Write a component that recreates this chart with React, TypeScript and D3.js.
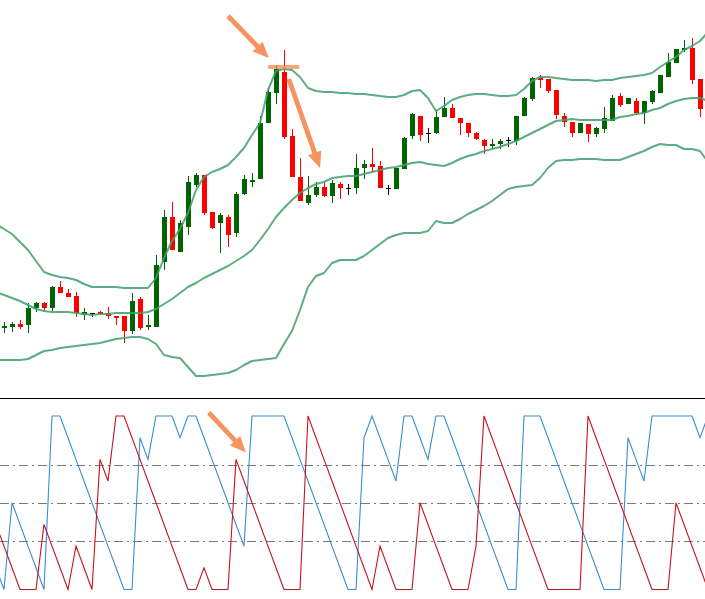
import { useEffect, useRef } from 'react';
import * as d3 from 'd3';

// OHLC, one entry per bar (bar 0 .. 87)
const opens = [
  1.2572, 1.2573, 1.2576, 1.2575, 1.2592, 1.2597, 1.2592, 1.2613, 1.2607, 1.2604,
  1.2585, 1.2587, 1.2588, 1.2587, 1.2584, 1.2584, 1.2569, 1.2601, 1.2573, 1.2573,
  1.2638, 1.2683, 1.2648, 1.2673, 1.2715, 1.2725, 1.2688, 1.2677, 1.2683, 1.2667,
  1.2706, 1.2718, 1.2721, 1.2777, 1.2807, 1.2828, 1.2764, 1.2723, 1.2697, 1.2705,
  1.2713, 1.2704, 1.2716, 1.2712, 1.2712, 1.2732, 1.2736, 1.2734, 1.2712, 1.2711,
  1.2731, 1.2764, 1.2784, 1.2767, 1.2767, 1.2783, 1.2792, 1.2782, 1.2777, 1.2767,
  1.2760, 1.2754, 1.2756, 1.2760, 1.2759, 1.2784, 1.2801, 1.2822, 1.2821, 1.2810,
  1.2784, 1.2778, 1.2767, 1.2776, 1.2766, 1.2771, 1.2779, 1.2804, 1.2796, 1.2799,
  1.2787, 1.2798, 1.2807, 1.2823, 1.2837, 1.2850, 1.2852, 1.2821,
];
const highs = [
  1.2578, 1.2578, 1.2580, 1.2597, 1.2598, 1.2598, 1.2614, 1.2619, 1.2611, 1.2608,
  1.2592, 1.2587, 1.2589, 1.2593, 1.2584, 1.2584, 1.2607, 1.2603, 1.2585, 1.2645,
  1.2690, 1.2698, 1.2680, 1.2724, 1.2727, 1.2725, 1.2688, 1.2687, 1.2685, 1.2708,
  1.2725, 1.2727, 1.2784, 1.2812, 1.2835, 1.2850, 1.2771, 1.2742, 1.2724, 1.2718,
  1.2718, 1.2720, 1.2718, 1.2716, 1.2746, 1.2740, 1.2752, 1.2739, 1.2715, 1.2732,
  1.2763, 1.2787, 1.2784, 1.2772, 1.2790, 1.2803, 1.2796, 1.2782, 1.2777, 1.2768,
  1.2761, 1.2761, 1.2761, 1.2763, 1.2784, 1.2803, 1.2823, 1.2825, 1.2821, 1.2810,
  1.2787, 1.2778, 1.2777, 1.2776, 1.2773, 1.2793, 1.2805, 1.2807, 1.2802, 1.2802,
  1.2799, 1.2810, 1.2825, 1.2847, 1.2851, 1.2860, 1.2862, 1.2821,
];
const lows = [
  1.2567, 1.2568, 1.2571, 1.2567, 1.2588, 1.2589, 1.2589, 1.2607, 1.2603, 1.2583,
  1.2580, 1.2583, 1.2585, 1.2581, 1.2575, 1.2557, 1.2566, 1.2570, 1.2570, 1.2573,
  1.2630, 1.2650, 1.2648, 1.2665, 1.2713, 1.2685, 1.2671, 1.2647, 1.2653, 1.2663,
  1.2705, 1.2713, 1.2721, 1.2777, 1.2796, 1.2761, 1.2723, 1.2699, 1.2695, 1.2703,
  1.2703, 1.2697, 1.2701, 1.2705, 1.2706, 1.2721, 1.2728, 1.2712, 1.2705, 1.2711,
  1.2731, 1.2761, 1.2759, 1.2757, 1.2766, 1.2783, 1.2782, 1.2765, 1.2763, 1.2760,
  1.2746, 1.2751, 1.2751, 1.2753, 1.2755, 1.2784, 1.2799, 1.2812, 1.2807, 1.2781,
  1.2773, 1.2763, 1.2767, 1.2758, 1.2763, 1.2767, 1.2779, 1.2793, 1.2796, 1.2785,
  1.2776, 1.2796, 1.2807, 1.2823, 1.2837, 1.2848, 1.2816, 1.2783,
];
const closes = [
  1.2574, 1.2576, 1.2573, 1.2592, 1.2597, 1.2592, 1.2613, 1.2607, 1.2603, 1.2587,
  1.2588, 1.2587, 1.2586, 1.2584, 1.2582, 1.2569, 1.2599, 1.2572, 1.2575, 1.2635,
  1.2683, 1.2650, 1.2677, 1.2718, 1.2725, 1.2687, 1.2672, 1.2685, 1.2665, 1.2706,
  1.2721, 1.2720, 1.2777, 1.2808, 1.2831, 1.2763, 1.2723, 1.2699, 1.2705, 1.2713,
  1.2704, 1.2717, 1.2712, 1.2712, 1.2732, 1.2736, 1.2733, 1.2712, 1.2712, 1.2732,
  1.2762, 1.2786, 1.2765, 1.2767, 1.2783, 1.2792, 1.2782, 1.2777, 1.2767, 1.2761,
  1.2754, 1.2756, 1.2759, 1.2760, 1.2784, 1.2802, 1.2822, 1.2820, 1.2809, 1.2785,
  1.2778, 1.2767, 1.2777, 1.2766, 1.2772, 1.2782, 1.2802, 1.2795, 1.2802, 1.2787,
  1.2799, 1.2809, 1.2825, 1.2838, 1.2851, 1.2852, 1.2820, 1.2791,
];

// Bollinger bands, bar -1 .. 88
const bandStart = -1;
const upperBand = [
  1.2676,
  1.2671, 1.2666, 1.2658, 1.2650, 1.2639, 1.2628, 1.2625, 1.2623, 1.2622, 1.2620,
  1.2616, 1.2613, 1.2613, 1.2613, 1.2613, 1.2612, 1.2612, 1.2612, 1.2612, 1.2622,
  1.2642, 1.2659, 1.2671, 1.2687, 1.2710, 1.2723, 1.2728, 1.2731, 1.2735, 1.2743,
  1.2752, 1.2765, 1.2777, 1.2810, 1.2829, 1.2831, 1.2830, 1.2823, 1.2812, 1.2809,
  1.2808, 1.2808, 1.2807, 1.2807, 1.2806, 1.2806, 1.2805, 1.2804, 1.2803, 1.2803,
  1.2805, 1.2809, 1.2810, 1.2802, 1.2789, 1.2794, 1.2800, 1.2803, 1.2805, 1.2806,
  1.2806, 1.2805, 1.2804, 1.2804, 1.2805, 1.2811, 1.2819, 1.2823, 1.2823, 1.2822,
  1.2821, 1.2820, 1.2820, 1.2820, 1.2819, 1.2820, 1.2820, 1.2822, 1.2823, 1.2824,
  1.2825, 1.2827, 1.2833, 1.2838, 1.2843, 1.2850, 1.2854, 1.2859,
  1.2868,
];
const middleBand = [
  1.2608,
  1.2605, 1.2602, 1.2599, 1.2595, 1.2591, 1.2589, 1.2588, 1.2588, 1.2588, 1.2587,
  1.2586, 1.2585, 1.2586, 1.2586, 1.2587, 1.2587, 1.2587, 1.2587, 1.2588, 1.2591,
  1.2596, 1.2601, 1.2607, 1.2613, 1.2617, 1.2622, 1.2626, 1.2630, 1.2634, 1.2639,
  1.2644, 1.2650, 1.2660, 1.2671, 1.2683, 1.2692, 1.2700, 1.2707, 1.2712, 1.2716,
  1.2718, 1.2722, 1.2723, 1.2724, 1.2724, 1.2726, 1.2728, 1.2730, 1.2732, 1.2733,
  1.2735, 1.2737, 1.2738, 1.2736, 1.2735, 1.2734, 1.2737, 1.2741, 1.2744, 1.2746,
  1.2749, 1.2751, 1.2753, 1.2756, 1.2759, 1.2763, 1.2767, 1.2771, 1.2775, 1.2779,
  1.2780, 1.2781, 1.2780, 1.2780, 1.2780, 1.2780, 1.2780, 1.2783, 1.2784, 1.2786,
  1.2787, 1.2790, 1.2792, 1.2796, 1.2799, 1.2801, 1.2802, 1.2802,
  1.2799,
];
const lowerBand = [
  1.2540,
  1.2540, 1.2540, 1.2540, 1.2541, 1.2545, 1.2549, 1.2550, 1.2552, 1.2553, 1.2554,
  1.2555, 1.2556, 1.2557, 1.2559, 1.2561, 1.2562, 1.2563, 1.2563, 1.2561, 1.2556,
  1.2545, 1.2543, 1.2542, 1.2533, 1.2524, 1.2524, 1.2525, 1.2526, 1.2527, 1.2530,
  1.2535, 1.2539, 1.2540, 1.2541, 1.2542, 1.2556, 1.2569, 1.2590, 1.2613, 1.2624,
  1.2627, 1.2637, 1.2640, 1.2640, 1.2640, 1.2644, 1.2650, 1.2656, 1.2662, 1.2665,
  1.2667, 1.2667, 1.2667, 1.2669, 1.2679, 1.2677, 1.2677, 1.2681, 1.2686, 1.2690,
  1.2694, 1.2699, 1.2705, 1.2711, 1.2713, 1.2714, 1.2715, 1.2722, 1.2732, 1.2739,
  1.2740, 1.2740, 1.2741, 1.2741, 1.2741, 1.2740, 1.2740, 1.2740, 1.2743, 1.2746,
  1.2749, 1.2753, 1.2756, 1.2755, 1.2755, 1.2751, 1.2751, 1.2749,
  1.2738,
];

// Aroon (period 8), bar -1 .. 88
const aroonStart = -1;
const aroonUp = [
  12.5,
  0, 50, 37.5, 25, 12.5, 0, 100, 100, 87.5, 75,
  62.5, 50, 37.5, 25, 12.5, 0, 0, 87.5, 75, 100,
  100, 100, 87.5, 100, 100, 87.5, 75, 62.5, 50, 37.5,
  25, 100, 100, 100, 100, 100, 87.5, 75, 62.5, 50,
  37.5, 25, 12.5, 0, 0, 87.5, 100, 87.5, 75, 62.5,
  100, 100, 87.5, 75, 100, 100, 87.5, 75, 62.5, 50,
  37.5, 25, 12.5, 0, 0, 100, 100, 100, 87.5, 75,
  62.5, 50, 37.5, 25, 12.5, 0, 0, 0, 87.5, 75,
  62.5, 100, 100, 100, 100, 100, 100, 87.5,
  100,
];
const aroonDown = [
  37.5,
  25, 12.5, 0, 0, 0, 37.5, 25, 12.5, 0, 25,
  12.5, 0, 75, 62.5, 100, 100, 87.5, 75, 62.5, 50,
  37.5, 25, 12.5, 0, 0, 12.5, 0, 0, 0, 75,
  62.5, 50, 37.5, 25, 12.5, 0, 0, 0, 100, 87.5,
  75, 62.5, 50, 37.5, 25, 12.5, 0, 25, 12.5, 0,
  0, 0, 50, 37.5, 25, 12.5, 0, 0, 0, 25,
  100, 87.5, 75, 62.5, 50, 37.5, 25, 12.5, 0, 0,
  0, 0, 0, 100, 87.5, 75, 62.5, 50, 37.5, 25,
  12.5, 0, 0, 0, 50, 37.5, 25, 12.5,
  0,
];
const aroonLevels = [72, 50, 28];

// hand-drawn annotations, in bar / price units
const priceArrows = [
  { from: [28.0, 1.2884], to: [33.1, 1.2842] },
  { from: [35.6, 1.2821], to: [39.5, 1.2732] },
];
const peakMark = { from: 33.2, to: 36.7, price: 1.2833 };
const aroonArrow = { from: [25.6, 102], to: [30.25, 79] };

const W = 705;
const H = 599;

function arrowPoints(x1: number, y1: number, x2: number, y2: number) {
  const len = Math.hypot(x2 - x1, y2 - y1);
  const ux = (x2 - x1) / len, uy = (y2 - y1) / len;
  const px = -uy, py = ux;
  const hl = 16, hw = 7, sw = 2.4;
  const bx = x2 - ux * hl, by = y2 - uy * hl;
  return [
    [x1 + px * sw, y1 + py * sw],
    [bx + px * sw, by + py * sw],
    [bx + px * hw, by + py * hw],
    [x2, y2],
    [bx - px * hw, by - py * hw],
    [bx - px * sw, by - py * sw],
    [x1 - px * sw, y1 - py * sw],
  ].map(p => p.join(',')).join(' ');
}

export default function App() {
  const svgRef = useRef<SVGSVGElement>(null);

  useEffect(() => {
    if (!svgRef.current) return;
    const svg = d3.select(svgRef.current);
    svg.selectAll('*').remove();

    const x  = d3.scaleLinear().domain([0, 87]).range([4, 700]);
    const y  = d3.scaleLinear().domain([1.25, 1.29]).range([400, 0]);
    const ya = d3.scaleLinear().domain([0, 100]).range([589.5, 416]);

    const defs = svg.append('defs');
    defs.append('clipPath').attr('id', 'clipTop')
      .append('rect').attr('x', 0).attr('y', 0).attr('width', W).attr('height', 397);
    defs.append('clipPath').attr('id', 'clipBot')
      .append('rect').attr('x', 0).attr('y', 399).attr('width', W).attr('height', H - 399);

    svg.append('rect').attr('width', W).attr('height', H).attr('fill', '#fff');

    const bars = opens.map((o, i) => ({ i, o, h: highs[i], l: lows[i], c: closes[i] }));
    const colorOf = (d: any) => d.o === d.c ? '#000' : d.c > d.o ? '#006400' : '#ff0000';
    const cx = (i: number) => Math.round(x(i));

    // Price panel
    const top = svg.append('g').attr('clip-path', 'url(#clipTop)');

    top.append('g').selectAll('line').data(bars).join('line')
      .attr('x1', d => cx(d.i) + 0.5).attr('x2', d => cx(d.i) + 0.5)
      .attr('y1', d => y(d.h)).attr('y2', d => y(d.l))
      .attr('stroke', colorOf).attr('stroke-width', 1);

    top.append('g').selectAll('rect').data(bars.filter(d => d.o !== d.c)).join('rect')
      .attr('x', d => cx(d.i) - 2).attr('width', 5)
      .attr('y', d => y(Math.max(d.o, d.c)))
      .attr('height', d => Math.max(1.5, Math.abs(y(d.o) - y(d.c))))
      .attr('fill', colorOf)
      .attr('shape-rendering', 'crispEdges');

    top.append('g').selectAll('line').data(bars.filter(d => d.o === d.c)).join('line')
      .attr('x1', d => cx(d.i) - 2).attr('x2', d => cx(d.i) + 3)
      .attr('y1', d => Math.round(y(d.o)) + 0.5).attr('y2', d => Math.round(y(d.o)) + 0.5)
      .attr('stroke', '#000').attr('stroke-width', 1);

    const bandLine = d3.line<number>()
      .x((_, k) => x(bandStart + k))
      .y(v => y(v));
    [upperBand, middleBand, lowerBand].forEach(band => {
      top.append('path')
        .attr('d', bandLine(band))
        .attr('fill', 'none')
        .attr('stroke', '#3f9f6c')
        .attr('stroke-opacity', 0.85)
        .attr('stroke-width', 2)
        .attr('stroke-linejoin', 'round');
    });

    // annotations on the price panel
    top.append('line')
      .attr('x1', x(peakMark.from)).attr('x2', x(peakMark.to))
      .attr('y1', y(peakMark.price)).attr('y2', y(peakMark.price))
      .attr('stroke', '#f58a50').attr('stroke-opacity', 0.75)
      .attr('stroke-width', 4).attr('stroke-linecap', 'round');
    priceArrows.forEach(a => {
      top.append('polygon')
        .attr('points', arrowPoints(x(a.from[0]), y(a.from[1]), x(a.to[0]), y(a.to[1])))
        .attr('fill', '#f5874d').attr('fill-opacity', 0.9);
    });

    // separator
    svg.append('line')
      .attr('x1', 0).attr('x2', W).attr('y1', 398.5).attr('y2', 398.5)
      .attr('stroke', '#000').attr('stroke-width', 1);

    // Aroon panel
    const bot = svg.append('g').attr('clip-path', 'url(#clipBot)');

    bot.append('g').selectAll('line').data(aroonLevels).join('line')
      .attr('x1', 0).attr('x2', W)
      .attr('y1', d => Math.round(ya(d)) + 0.5).attr('y2', d => Math.round(ya(d)) + 0.5)
      .attr('stroke', '#7a7a7a').attr('stroke-width', 1)
      .attr('stroke-dasharray', '9,4,2,4');

    const aroonLine = d3.line<number>()
      .x((_, k) => x(aroonStart + k))
      .y(v => ya(v));
    bot.append('path').attr('d', aroonLine(aroonUp))
      .attr('fill', 'none').attr('stroke', '#3a8ed0').attr('stroke-width', 1.1);
    bot.append('path').attr('d', aroonLine(aroonDown))
      .attr('fill', 'none').attr('stroke', '#c3151d').attr('stroke-width', 1.1);

    bot.append('polygon')
      .attr('points', arrowPoints(
        x(aroonArrow.from[0]), ya(aroonArrow.from[1]),
        x(aroonArrow.to[0]), ya(aroonArrow.to[1])))
      .attr('fill', '#f5874d').attr('fill-opacity', 0.9);
  }, []);

  return (
    <svg
      ref={svgRef}
      width={W}
      height={H}
      style={{ position: 'absolute', left: 0, top: 0, display: 'block' }}
    />
  );
}
